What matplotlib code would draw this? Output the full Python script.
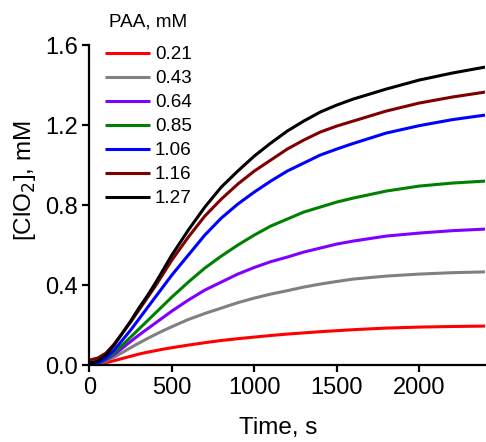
import matplotlib
matplotlib.use("Agg")
import matplotlib.pyplot as plt

plt.rcParams['font.family'] = ['Liberation Sans', 'DejaVu Sans']

# Zeitachse in Sekunden
time_s = [0, 50, 100, 150, 200, 250, 300, 350, 400, 450, 500, 600, 700, 800, 900, 1000,
          1100, 1200, 1300, 1400, 1500, 1600, 1800, 2000, 2200, 2400]

# [ClO2] in mM je PAA-Konzentration
paa_labels = ['0.21', '0.43', '0.64', '0.85', '1.06', '1.16', '1.27']
clo2_021 = [0.0, 0.004, 0.012, 0.022, 0.033, 0.044, 0.055, 0.064, 0.072, 0.08, 0.087, 0.1, 0.112,
            0.123, 0.132, 0.14, 0.148, 0.155, 0.161, 0.167, 0.172, 0.177, 0.185, 0.19, 0.193, 0.195]
clo2_043 = [0.0, 0.005, 0.02, 0.04, 0.063, 0.087, 0.11, 0.132, 0.153, 0.173, 0.192, 0.228, 0.258,
            0.285, 0.312, 0.335, 0.355, 0.372, 0.39, 0.405, 0.418, 0.43, 0.445, 0.455, 0.462, 0.466]
clo2_064 = [0.0, 0.007, 0.025, 0.052, 0.085, 0.118, 0.15, 0.18, 0.21, 0.24, 0.27, 0.325, 0.375,
            0.415, 0.455, 0.488, 0.517, 0.54, 0.565, 0.585, 0.605, 0.62, 0.645, 0.66, 0.672, 0.68]
clo2_085 = [0.0, 0.008, 0.03, 0.062, 0.1, 0.14, 0.18, 0.22, 0.26, 0.3, 0.34, 0.415, 0.485,
            0.545, 0.6, 0.65, 0.695, 0.73, 0.765, 0.79, 0.815, 0.835, 0.87, 0.895, 0.91, 0.92]
clo2_106 = [0.0, 0.01, 0.035, 0.075, 0.125, 0.175, 0.23, 0.285, 0.34, 0.395, 0.45, 0.55, 0.65,
            0.735, 0.805, 0.865, 0.92, 0.97, 1.01, 1.05, 1.08, 1.108, 1.16, 1.197, 1.227, 1.25]
clo2_116 = [0.025, 0.035, 0.06, 0.105, 0.16, 0.215, 0.275, 0.335, 0.395, 0.46, 0.525, 0.64, 0.745,
            0.83, 0.905, 0.97, 1.025, 1.08, 1.125, 1.165, 1.195, 1.22, 1.27, 1.31, 1.34, 1.365]
clo2_127 = [0.01, 0.02, 0.05, 0.1, 0.16, 0.22, 0.285, 0.345, 0.41, 0.48, 0.55, 0.675, 0.79,
            0.89, 0.97, 1.045, 1.11, 1.17, 1.22, 1.265, 1.3, 1.33, 1.38, 1.425, 1.46, 1.49]

series = [clo2_021, clo2_043, clo2_064, clo2_085, clo2_106, clo2_116, clo2_127]
colors = ['#ff0000', '#808080', '#8000ff', '#008000', '#0000ff', '#800000', '#000000']

fig = plt.figure(figsize=(4.86, 4.42), dpi=100)
ax = fig.add_axes([0.184, 0.174, 0.814, 0.724])

for y, c, lab in zip(series, colors, paa_labels):
    ax.plot(time_s, y, color=c, lw=2.2, label=lab, solid_capstyle='butt')

ax.set_xlim(0, 2400)
ax.set_ylim(0, 1.6)
ax.set_xticks([0, 500, 1000, 1500, 2000])
ax.set_yticks([0.0, 0.4, 0.8, 1.2, 1.6])
ax.set_yticklabels(['0.0', '0.4', '0.8', '1.2', '1.6'])

for s in ['top', 'right']:
    ax.spines[s].set_visible(False)
for s in ['left', 'bottom']:
    ax.spines[s].set_linewidth(1.6)
ax.tick_params(width=1.6, length=5, labelsize=17)
ax.tick_params(axis='x', pad=3.5)
ax.tick_params(axis='y', pad=3)

# Achsenbeschriftungen (leicht aus der Mitte versetzt wie im Original)
fig.text(278 / 486, 1 - 428 / 442, 'Time, s', fontsize=17.5, ha='center', va='center')
fig.text(25 / 486, 1 - 181 / 442, '[ClO$_2$], mM', fontsize=17.5, ha='center', va='center',
         rotation=90)

# Legende
fig.text(148 / 486, 1 - 22 / 442, 'PAA, mM', fontsize=13.6, ha='center', va='center')
ax.legend(loc='upper left', bbox_to_anchor=(105 / 486, 1 - 46 / 442), bbox_transform=fig.transFigure,
          frameon=False, fontsize=13.6, handlelength=2.4, handletextpad=0.25,
          labelspacing=0.36, borderpad=0, borderaxespad=0)

fig.savefig('out.png', dpi=100)
